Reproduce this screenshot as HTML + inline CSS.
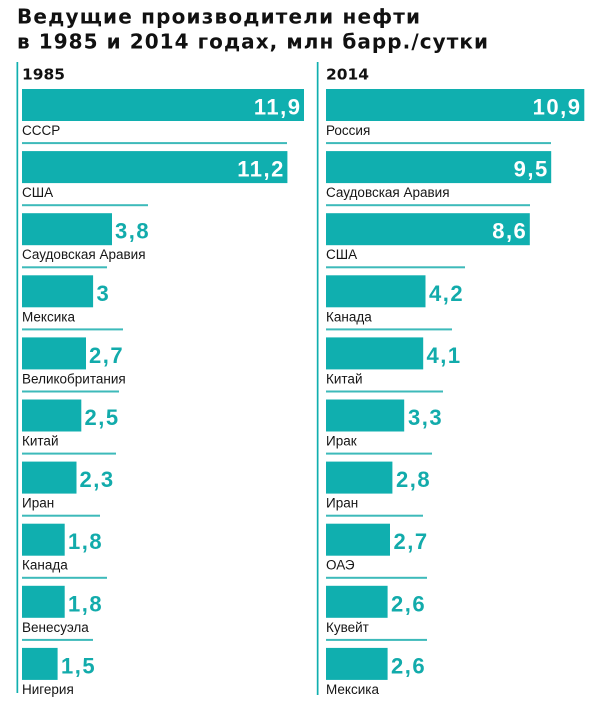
<!DOCTYPE html>
<html>
<head>
<meta charset="utf-8">
<style>
html,body{margin:0;padding:0;background:#fff;}
svg{display:block;}
text{font-family:"Liberation Sans","DejaVu Sans",sans-serif;}
.t{font-family:"DejaVu Sans","Liberation Sans",sans-serif;font-weight:bold;font-size:20px;fill:#111;}
.h{font-family:"DejaVu Sans","Liberation Sans",sans-serif;font-weight:bold;font-size:15.5px;fill:#111;}
.l{font-size:13.5px;fill:#151515;}
.vi{font-weight:bold;font-size:22px;fill:#fff;letter-spacing:1.5px;}
.vo{font-weight:bold;font-size:22px;fill:#12abab;letter-spacing:1.5px;}
.bar{fill:#10afaf;}
.sep{fill:#3dbaba;}
</style>
</head>
<body>
<svg width="605" height="712" viewBox="0 0 605 712" xmlns="http://www.w3.org/2000/svg">
<!-- Title -->
<text class="t" x="17" y="23.3" textLength="403" lengthAdjust="spacing">Ведущие производители нефти</text>
<text class="t" x="17" y="48.3" textLength="471" lengthAdjust="spacing">в 1985 и 2014 годах, млн барр./сутки</text>

<!-- Vertical lines -->
<rect x="16.5" y="62" width="1.7" height="631" fill="#10afaf"/>
<rect x="316.8" y="62" width="1.7" height="633" fill="#10afaf"/>

<!-- Headings -->
<text class="h" x="22" y="79.5" textLength="43" lengthAdjust="spacingAndGlyphs">1985</text>
<text class="h" x="326" y="79.5" textLength="43" lengthAdjust="spacingAndGlyphs">2014</text>

<!-- LEFT COLUMN -->
<rect class="bar" x="22" y="89" width="282" height="32"/>
<text class="vi" x="301.5" y="114.5" text-anchor="end">11,9</text>
<text class="l" x="22" y="135">СССР</text>

<rect class="sep" x="22" y="142.1" width="265" height="2"/>
<rect class="bar" x="22" y="151.1" width="265.4" height="32"/>
<text class="vi" x="284.9" y="176.6" text-anchor="end">11,2</text>
<text class="l" x="22" y="197.1">США</text>

<rect class="sep" x="22" y="204.2" width="126" height="2"/>
<rect class="bar" x="22" y="213.2" width="90" height="32"/>
<text class="vo" x="115" y="238.7">3,8</text>
<text class="l" x="22" y="259.2">Саудовская Аравия</text>

<rect class="sep" x="22" y="266.3" width="85" height="2"/>
<rect class="bar" x="22" y="275.3" width="71.1" height="32"/>
<text class="vo" x="96.5" y="300.8">3</text>
<text class="l" x="22" y="321.3">Мексика</text>

<rect class="sep" x="22" y="328.4" width="101" height="2"/>
<rect class="bar" x="22" y="337.4" width="64" height="32"/>
<text class="vo" x="89" y="362.9">2,7</text>
<text class="l" x="22" y="383.4">Великобритания</text>

<rect class="sep" x="22" y="390.5" width="97" height="2"/>
<rect class="bar" x="22" y="399.5" width="59.3" height="32"/>
<text class="vo" x="84.5" y="425">2,5</text>
<text class="l" x="22" y="445.5">Китай</text>

<rect class="sep" x="22" y="452.6" width="94" height="2"/>
<rect class="bar" x="22" y="461.6" width="54.5" height="32"/>
<text class="vo" x="79.5" y="487.1">2,3</text>
<text class="l" x="22" y="507.6">Иран</text>

<rect class="sep" x="22" y="514.7" width="78" height="2"/>
<rect class="bar" x="22" y="523.7" width="42.7" height="32"/>
<text class="vo" x="68" y="549.2">1,8</text>
<text class="l" x="22" y="569.7">Канада</text>

<rect class="sep" x="22" y="576.8" width="85" height="2"/>
<rect class="bar" x="22" y="585.8" width="42.7" height="32"/>
<text class="vo" x="68" y="611.3">1,8</text>
<text class="l" x="22" y="631.8">Венесуэла</text>

<rect class="sep" x="22" y="638.9" width="71" height="2"/>
<rect class="bar" x="22" y="647.9" width="35.6" height="32"/>
<text class="vo" x="61" y="673.4">1,5</text>
<text class="l" x="22" y="693.9">Нигерия</text>

<!-- RIGHT COLUMN -->
<rect class="bar" x="326" y="89" width="258.3" height="32"/>
<text class="vi" x="581.5" y="114.5" text-anchor="end">10,9</text>
<text class="l" x="326" y="135">Россия</text>

<rect class="sep" x="326" y="142.1" width="225" height="2"/>
<rect class="bar" x="326" y="151.1" width="225.2" height="32"/>
<text class="vi" x="548.7" y="176.6" text-anchor="end">9,5</text>
<text class="l" x="326" y="197.1">Саудовская Аравия</text>

<rect class="sep" x="326" y="204.2" width="204" height="2"/>
<rect class="bar" x="326" y="213.2" width="203.8" height="32"/>
<text class="vi" x="527.3" y="238.7" text-anchor="end">8,6</text>
<text class="l" x="326" y="259.2">США</text>

<rect class="sep" x="326" y="266.3" width="139" height="2"/>
<rect class="bar" x="326" y="275.3" width="99.5" height="32"/>
<text class="vo" x="429" y="300.8">4,2</text>
<text class="l" x="326" y="321.3">Канада</text>

<rect class="sep" x="326" y="328.4" width="126" height="2"/>
<rect class="bar" x="326" y="337.4" width="97.2" height="32"/>
<text class="vo" x="426.5" y="362.9">4,1</text>
<text class="l" x="326" y="383.4">Китай</text>

<rect class="sep" x="326" y="390.5" width="117" height="2"/>
<rect class="bar" x="326" y="399.5" width="78.2" height="32"/>
<text class="vo" x="408" y="425">3,3</text>
<text class="l" x="326" y="445.5">Ирак</text>

<rect class="sep" x="326" y="452.6" width="106" height="2"/>
<rect class="bar" x="326" y="461.6" width="66.4" height="32"/>
<text class="vo" x="396" y="487.1">2,8</text>
<text class="l" x="326" y="507.6">Иран</text>

<rect class="sep" x="326" y="514.7" width="97" height="2"/>
<rect class="bar" x="326" y="523.7" width="64" height="32"/>
<text class="vo" x="393.5" y="549.2">2,7</text>
<text class="l" x="326" y="569.7">ОАЭ</text>

<rect class="sep" x="326" y="576.8" width="101" height="2"/>
<rect class="bar" x="326" y="585.8" width="61.6" height="32"/>
<text class="vo" x="391" y="611.3">2,6</text>
<text class="l" x="326" y="631.8">Кувейт</text>

<rect class="sep" x="326" y="638.9" width="101" height="2"/>
<rect class="bar" x="326" y="647.9" width="61.6" height="32"/>
<text class="vo" x="391" y="673.4">2,6</text>
<text class="l" x="326" y="693.9">Мексика</text>
</svg>
</body>
</html>
